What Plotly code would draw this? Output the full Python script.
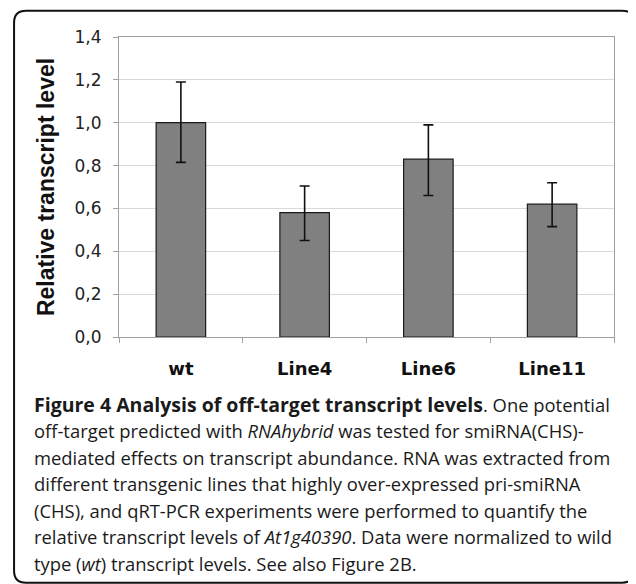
import plotly.graph_objects as go

categories = ["wt", "Line4", "Line6", "Line11"]
values = [1.00, 0.58, 0.83, 0.62]
err_plus = [0.19, 0.125, 0.16, 0.10]
err_minus = [0.185, 0.13, 0.17, 0.105]
y_ticks = [0.0, 0.2, 0.4, 0.6, 0.8, 1.0, 1.2, 1.4]
y_title = "Relative transcript level"

caption_lines = [
    "<b><span style='font-size:19.5px'>Figure 4 Analysis of off-target transcript levels</span></b>. One potential",
    "off-target predicted with <i>RNAhybrid</i> was tested for smiRNA(CHS)-",
    "mediated effects on transcript abundance. RNA was extracted from",
    "different transgenic lines that highly over-expressed pri-smiRNA",
    "(CHS), and qRT-PCR experiments were performed to quantify the",
    "relative transcript levels of <i>At1g40390</i>. Data were normalized to wild",
    "type (<i>wt</i>) transcript levels. See also Figure 2B.",
]

# page has an 8px body margin, so the figure is sized to fit the window
W, H = 628, 576
ML, MR, MT, MB = 110.5, 22.2, 29.3, 246.7
PW = W - ML - MR
PH = H - MT - MB


def px_x(px):
    return (px - ML) / PW


def px_y(py):
    return (H - MB - py) / PH


fig = go.Figure()
fig.add_trace(go.Bar(
    x=categories,
    y=values,
    marker=dict(color="#808080", line=dict(color="#1a1a1a", width=1.2)),
    error_y=dict(type="data", symmetric=False, array=err_plus, arrayminus=err_minus,
                 color="#111111", thickness=1.6, width=5),
    showlegend=False,
))

# rounded outer frame
x0, y0, x1, y1, r = 5.5, 3, 626, 575, 12
path = (
    f"M {px_x(x0 + r)} {px_y(y0)} L {px_x(x1 - r)} {px_y(y0)} "
    f"Q {px_x(x1)} {px_y(y0)} {px_x(x1)} {px_y(y0 + r)} "
    f"L {px_x(x1)} {px_y(y1 - r)} Q {px_x(x1)} {px_y(y1)} {px_x(x1 - r)} {px_y(y1)} "
    f"L {px_x(x0 + r)} {px_y(y1)} Q {px_x(x0)} {px_y(y1)} {px_x(x0)} {px_y(y1 - r)} "
    f"L {px_x(x0)} {px_y(y0 + r)} Q {px_x(x0)} {px_y(y0)} {px_x(x0 + r)} {px_y(y0)} Z"
)
fig.add_shape(type="path", path=path, xref="paper", yref="paper",
              line=dict(color="#111111", width=2), fillcolor="rgba(0,0,0,0)", layer="above")

line_y0 = 396.5
line_step = 26.5
for i, line in enumerate(caption_lines):
    fig.add_annotation(
        text=line, xref="paper", yref="paper",
        x=px_x(23), y=px_y(line_y0 + i * line_step),
        xanchor="left", yanchor="middle", showarrow=False, align="left",
        font=dict(family="Open Sans, sans-serif", size=18.4, color="#1a1a1a"),
    )

fig.update_layout(
    width=W, height=H,
    margin=dict(l=ML, r=MR, t=MT, b=MB, pad=0),
    paper_bgcolor="white", plot_bgcolor="white",
    separators=", ",
    bargap=0.6,
    font=dict(family="DejaVu Sans, sans-serif", color="#222222"),
    xaxis=dict(
        type="category",
        tickson="boundaries", ticks="outside", ticklen=5, tickcolor="#a0a0a0",
        showline=True, linecolor="#a0a0a0", linewidth=1.2, mirror=True,
        showgrid=False,
        tickfont=dict(family="DejaVu Sans, sans-serif", size=18, color="#111111", weight="bold"),
        ticklabelstandoff=15,
    ),
    yaxis=dict(
        range=[0, 1.4], tickvals=y_ticks, tickformat=".1f",
        ticks="outside", ticklen=5, tickcolor="#a0a0a0",
        showline=True, linecolor="#a0a0a0", linewidth=1.2, mirror=True,
        showgrid=True, gridcolor="#d9d9d9", gridwidth=1,
        zeroline=False,
        tickfont=dict(family="DejaVu Sans, sans-serif", size=17, color="#222222"),
        ticklabelstandoff=8,
        title=dict(text=y_title, standoff=13,
                   font=dict(family="Liberation Sans, Arial, sans-serif", size=23, color="#111111", weight="bold")),
    ),
)

fig.write_html("out.html")
